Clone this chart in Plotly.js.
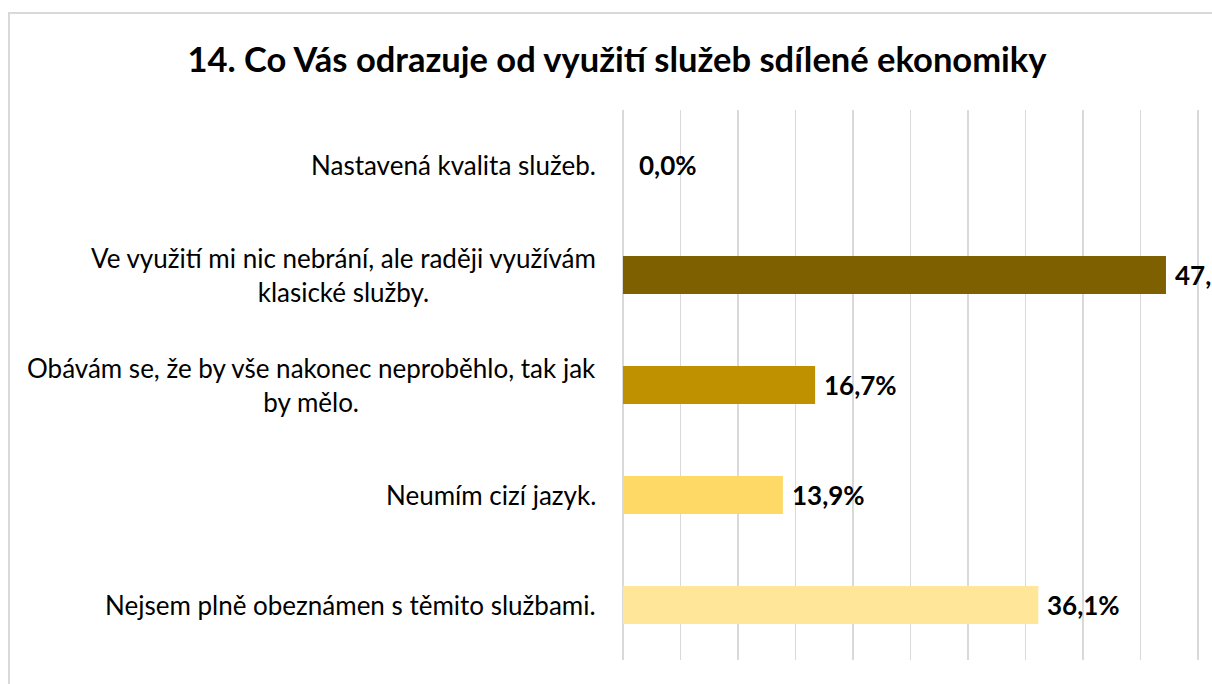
<!DOCTYPE html>
<html>
<head>
<meta charset="utf-8">
<script src="https://cdn.plot.ly/plotly-3.0.1.min.js"></script>
<style>
  html, body { margin:0; padding:0; background:#fff; overflow:hidden; }
  #frame { position:absolute; left:8px; top:12px; width:1400px; height:900px; border:2px solid #d9d9d9; box-sizing:border-box; }
  #chart { position:absolute; left:0; top:0; width:1212px; height:684px; }
</style>
</head>
<body>
<div id="frame"></div>
<div id="chart"></div>
<script>
const chartTitle = "14. Co Vás odrazuje od využití služeb sdílené ekonomiky";
const categories = [
  "Nastavená kvalita služeb.",
  "Ve využití mi nic nebrání, ale raději využívám<br>klasické služby.",
  "Obávám se, že by vše nakonec neproběhlo, tak jak<br>by mělo.",
  "Neumím cizí jazyk.",
  "Nejsem plně obeznámen s těmito službami."
];
const values = [0.0, 47.2, 16.7, 13.9, 36.1];
const valueLabels = ["0,0%", "47,2%", "16,7%", "13,9%", "36,1%"];
const barColors = ["#FFF2CC", "#7F6000", "#BF9000", "#FFD966", "#FFE699"];

const FONT = "Lato, 'Open Sans', sans-serif";

const trace = {
  type: 'bar',
  orientation: 'h',
  x: values,
  y: categories,
  marker: { color: barColors, line: { width: 0 } },
  width: 0.345,
  cliponaxis: false,
  hoverinfo: 'none'
};

const catAnnotations = categories.map(c => ({
  xref: 'paper', yref: 'y', x: 0, y: c,
  xanchor: 'right', yanchor: 'middle', xshift: -25,
  text: c, align: 'center', showarrow: false,
  font: { family: FONT, size: 26, color: '#000000' }
}));

const valAnnotations = categories.map((c, i) => ({
  xref: 'x', yref: 'y', x: values[i], y: c,
  xanchor: 'left', yanchor: 'middle', xshift: i === 0 ? 14 : 7,
  text: '<b>' + valueLabels[i] + '</b>', showarrow: false,
  font: { family: FONT, size: 26, color: '#000000' }
}));

const layout = {
  width: 1212, height: 684,
  margin: { l: 623, r: 0, t: 110, b: 24, pad: 0 },
  paper_bgcolor: 'rgba(0,0,0,0)',
  plot_bgcolor: 'rgba(0,0,0,0)',
  showlegend: false,
  title: {
    text: '<b>' + chartTitle + '</b>',
    x: 617 / 1212, xanchor: 'center', xref: 'container',
    y: 1 - 60 / 684, yanchor: 'middle', yref: 'container',
    font: { family: FONT, size: 34.5, color: '#000000' }
  },
  xaxis: {
    range: [0, 51.2], dtick: 5, tick0: 0,
    showgrid: true, gridcolor: '#d9d9d9', gridwidth: 1.5,
    zeroline: true, zerolinecolor: '#d9d9d9', zerolinewidth: 1.5,
    showticklabels: false, showline: false, ticks: '', fixedrange: true
  },
  yaxis: {
    type: 'category', autorange: 'reversed',
    showticklabels: false, showgrid: false, zeroline: false, showline: false, ticks: '', fixedrange: true
  },
  annotations: catAnnotations.concat(valAnnotations)
};

Plotly.newPlot('chart', [trace], layout, { staticPlot: true, displayModeBar: false });
</script>
</body>
</html>
